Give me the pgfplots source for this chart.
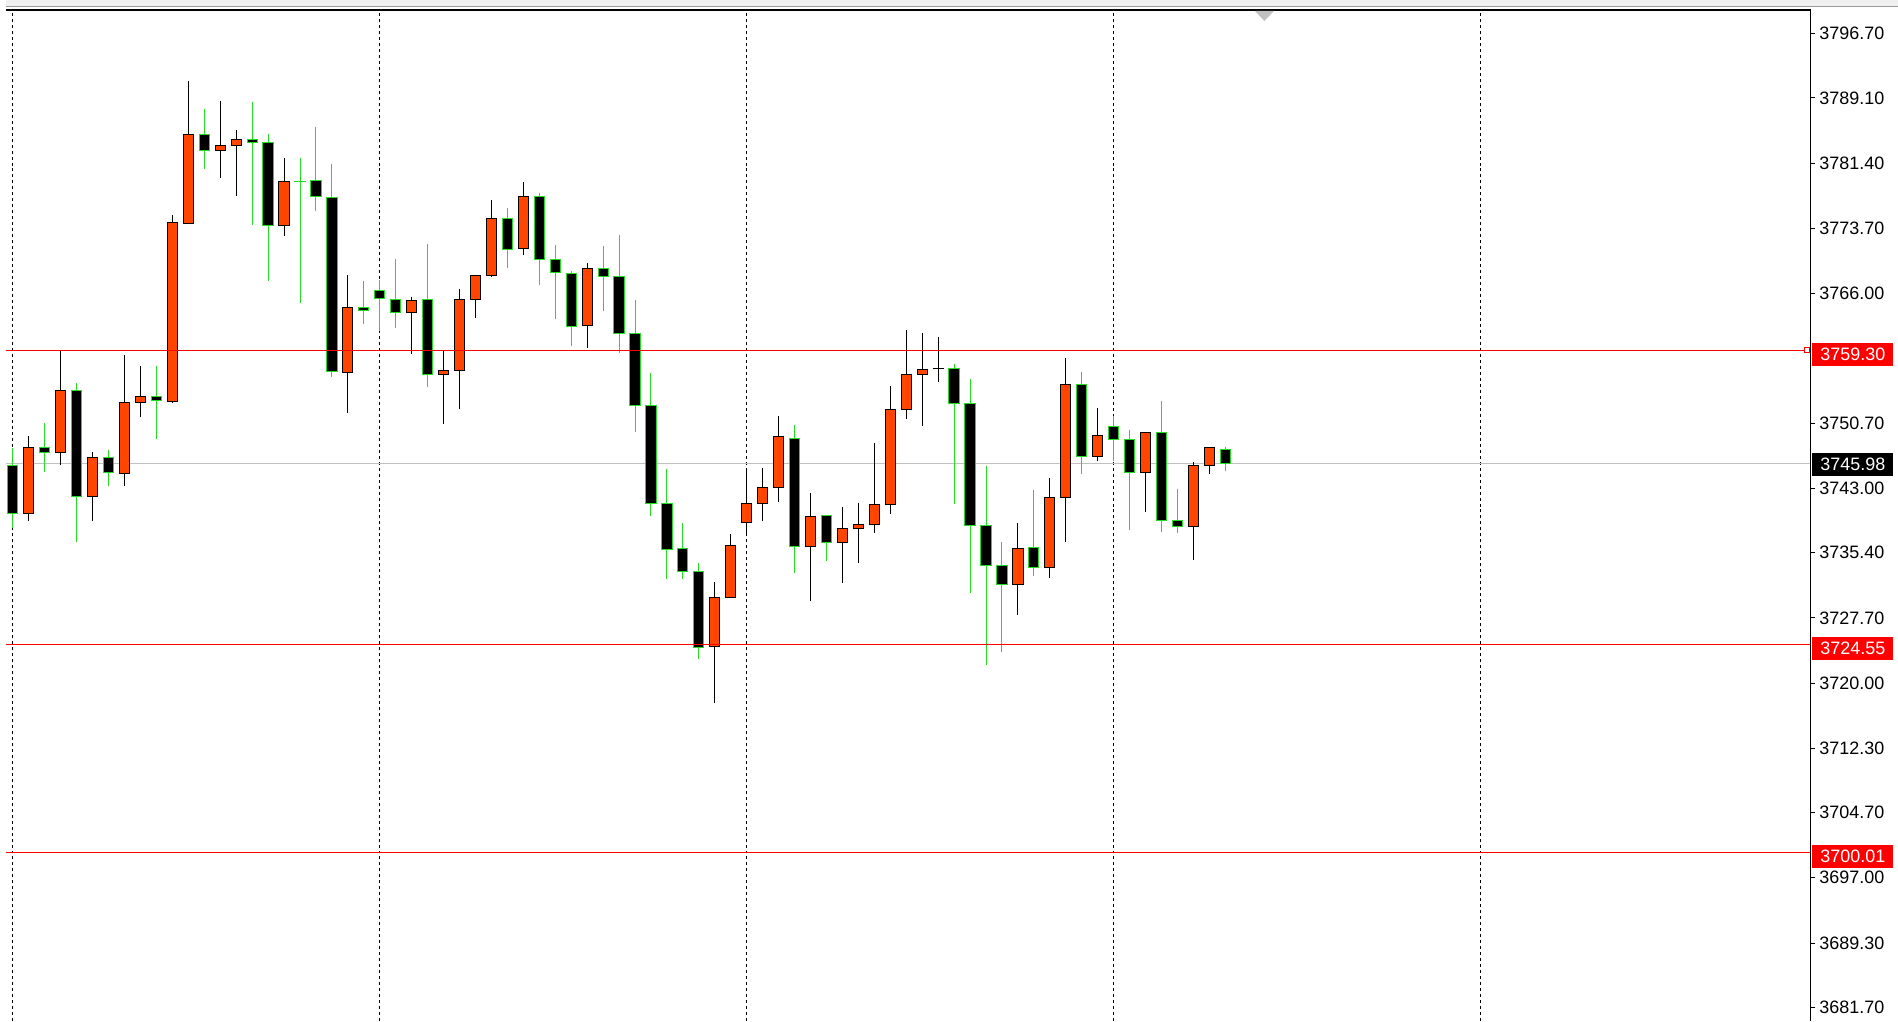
\documentclass[border=0pt]{standalone}
\usepackage{fontspec}
\setmainfont{Liberation Sans}
\usepackage{pgfplots}
\usepackage{pgfplotstable}
\pgfplotsset{compat=1.18}
\usepgfplotslibrary{statistics}

\definecolor{bullbody}{HTML}{FF4500}
\definecolor{bearline}{HTML}{22DD22}
\definecolor{bidline}{HTML}{C0C0C0}
\definecolor{levelred}{HTML}{FF0000}

\pgfplotsset{
  bull/.style={solid, line width=1pt, draw=black, fill=bullbody},
  bear/.style={solid, line width=1pt, draw=bearline, fill=black},
}
\tikzset{
  pricetag/.style={text=white, anchor=west, inner xsep=8pt, inner ysep=0pt,
    minimum height=23pt, font=\fontsize{18}{20}\selectfont, xshift=2pt},
}

% open high low close, one row per bar
\pgfplotstableread{
o h l c
3745.72 3747.80 3738.26 3739.99
3739.99 3749.17 3739.12 3747.87
3747.84 3750.74 3744.89 3747.21
3747.17 3759.30 3745.72 3754.59
3754.59 3755.45 3736.65 3741.99
3741.99 3747.33 3739.12 3746.58
3746.58 3747.56 3743.24 3744.81
3744.70 3758.75 3743.24 3753.17
3753.17 3757.49 3751.37 3753.88
3753.88 3757.49 3748.86 3753.41
3753.27 3775.23 3753.02 3774.37
3774.33 3791.13 3774.21 3784.73
3784.73 3787.83 3780.65 3782.85
3782.85 3788.77 3779.63 3783.43
3783.43 3785.36 3777.51 3784.14
3784.14 3788.65 3774.09 3783.79
3783.79 3784.89 3767.50 3774.02
3774.02 3782.06 3772.80 3779.20
3779.25 3782.06 3764.91 3779.24
3779.31 3785.71 3775.74 3777.43
3777.39 3781.35 3756.19 3756.82
3756.70 3768.16 3751.95 3764.36
3764.32 3767.46 3762.43 3764.00
3766.36 3767.61 3761.61 3765.42
3765.30 3770.05 3761.92 3763.77
3763.77 3765.57 3758.90 3765.18
3765.30 3771.81 3755.02 3756.47
3756.47 3759.29 3750.54 3756.94
3756.94 3766.52 3752.31 3765.30
3765.30 3768.24 3763.14 3768.13
3768.13 3777.00 3767.97 3774.84
3774.84 3776.13 3769.03 3771.23
3771.30 3779.23 3770.56 3777.43
3777.43 3777.82 3767.03 3770.01
3770.01 3771.70 3762.98 3768.48
3768.36 3768.64 3759.84 3762.12
3762.24 3769.58 3759.61 3768.95
3768.95 3771.58 3763.96 3768.01
3768.01 3772.87 3759.02 3761.32
3761.32 3765.22 3749.60 3752.72
3752.80 3756.63 3739.71 3741.15
3741.15 3745.33 3732.30 3735.75
3735.87 3738.85 3732.30 3733.20
3733.16 3734.14 3722.88 3724.25
3724.33 3731.91 3717.62 3730.10
3730.10 3737.56 3730.10 3736.22
3738.93 3745.21 3737.75 3741.17
3741.17 3745.45 3739.13 3743.05
3743.05 3751.57 3741.36 3749.06
3748.94 3750.51 3733.00 3736.10
3736.10 3742.50 3729.71 3739.64
3739.75 3739.75 3734.42 3736.58
3736.58 3740.85 3731.83 3738.22
3738.22 3741.32 3734.18 3738.69
3738.69 3748.39 3737.71 3741.05
3741.05 3755.14 3739.95 3752.35
3752.35 3761.71 3751.14 3756.47
3756.47 3761.34 3750.31 3757.06
3757.14 3760.87 3755.61 3757.15
3757.18 3757.69 3741.12 3753.06
3753.06 3755.92 3730.65 3738.57
3738.65 3745.68 3722.17 3733.86
3733.86 3736.61 3723.70 3731.63
3731.63 3738.85 3728.06 3735.87
3735.98 3742.85 3732.61 3733.63
3733.63 3744.26 3732.41 3741.87
3741.87 3758.39 3736.65 3755.29
3755.29 3756.75 3744.66 3746.70
3746.70 3752.51 3746.19 3749.21
3750.35 3751.56 3746.27 3748.82
3748.82 3749.92 3738.06 3744.81
3744.81 3749.64 3740.18 3749.64
3749.64 3753.33 3737.83 3739.16
3739.16 3742.97 3737.71 3738.46
3738.53 3746.15 3734.53 3745.64
3745.64 3747.76 3744.66 3747.76
3747.60 3747.91 3745.01 3745.98
}\candles

\begin{document}
\pgfplotstablegetrowsof{\candles}
\pgfmathtruncatemacro\nlast{\pgfplotsretval-1}
\begin{tikzpicture}
\fill[white] (0pt,0pt) rectangle (1898pt,1024pt);
\fill[black!6] (0pt,1018pt) rectangle (1898pt,1024pt);
\fill[black!40] (0pt,1016.5pt) rectangle (1898pt,1018pt);
\begin{axis}[
  at={(0pt,0pt)}, anchor=south west,
  scale only axis, width=1810pt, height=1014pt,
  xmin=-0.458, xmax=112.667, ymin=3680.09, ymax=3799.49,
  clip=false,
  axis line style={draw=none},
  xtick={0,23,46,69,92}, xticklabels={}, xmajorgrids,
  major x tick style={draw=none},
  grid style={black, line width=1pt, dash pattern=on 3pt off 3pt},
  ytick={3681.7,3689.3,3697,3704.7,3712.3,3720,3727.7,3735.4,3743,3750.7,3766,3773.7,3781.4,3789.1,3796.7},
  ytick pos=right, yticklabel pos=right,
  tick align=outside, major tick length=5pt,
  ytick style={black, line width=1pt},
  scaled y ticks=false,
  yticklabel style={font=\fontsize{18}{20}\selectfont, anchor=west, inner sep=0pt, xshift=4pt},
  /pgf/number format/fixed, /pgf/number format/fixed zerofill,
  /pgf/number format/precision=2, /pgf/number format/1000 sep={},
  /pgf/number format/assume math mode=true,
  boxplot/draw direction=y, boxplot/box extend=0.64, boxplot/whisker extend=0,
]
\addplot[bidline, line width=1pt] coordinates {(-0.458,3745.98) (112.667,3745.98)};

\pgfplotsinvokeforeach{0,...,\nlast}{
  \pgfplotstablegetelem{#1}{o}\of\candles \let\cO\pgfplotsretval
  \pgfplotstablegetelem{#1}{h}\of\candles \let\cH\pgfplotsretval
  \pgfplotstablegetelem{#1}{l}\of\candles \let\cL\pgfplotsretval
  \pgfplotstablegetelem{#1}{c}\of\candles \let\cC\pgfplotsretval
  \pgfmathsetmacro\cLo{min(\cO,\cC)}
  \pgfmathsetmacro\cHi{max(\cO,\cC)}
  \ifdim\cC pt>\cO pt \def\cStyle{bull}\else\def\cStyle{bear}\fi
  \edef\drawcandle{\noexpand\addplot[\cStyle, boxplot prepared={draw position=#1,
    lower whisker=\cL, lower quartile=\cLo, median=\cLo,
    upper quartile=\cHi, upper whisker=\cH}] coordinates {};}
  \drawcandle
}

\addplot[levelred, line width=1pt] coordinates {(-0.458,3759.30) (112.667,3759.30)};
\addplot[levelred, line width=1pt] coordinates {(-0.458,3724.55) (112.667,3724.55)};
\addplot[levelred, line width=1pt] coordinates {(-0.458,3700.01) (112.667,3700.01)};
\addplot[levelred, only marks, mark=square*, mark size=2.5pt,
  mark options={solid, line width=1pt, draw=levelred, fill=white}] coordinates {(112.45,3759.30)};

\draw[black, line width=1.3pt] (rel axis cs:0,1) -- (rel axis cs:1,1) -- (rel axis cs:1,0);

\node[pricetag, fill=levelred, yshift=-4pt] at (axis cs:112.667,3759.30) {3759.30};
\node[pricetag, fill=levelred, yshift=-4pt] at (axis cs:112.667,3724.55) {3724.55};
\node[pricetag, fill=levelred, yshift=-4pt] at (axis cs:112.667,3700.01) {3700.01};
\node[pricetag, fill=black, yshift=-1pt] at (axis cs:112.667,3745.98) {3745.98};
\end{axis}
% shift marker at the top
\fill[bidline] (1253pt,1013pt) -- (1272pt,1013pt) -- (1262.5pt,1003pt) -- cycle;
\pgfresetboundingbox
\path[use as bounding box] (0pt,0pt) rectangle (1898pt,1024pt);
\end{tikzpicture}
\end{document}
